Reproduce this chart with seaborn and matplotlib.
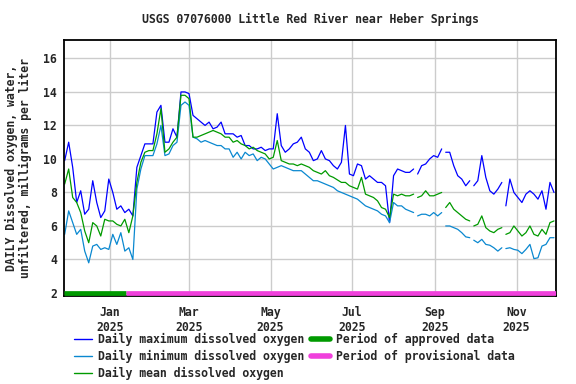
import numpy as np
import pandas as pd
import matplotlib
matplotlib.use("Agg")
import matplotlib.pyplot as plt
from matplotlib.lines import Line2D
import seaborn as sns

# ---------------- data ----------------
start_date = "2024-11-28"
step_days = 3

max_do = [9.9, 11.0, 9.5, 7.4, 8.1, 6.7, 7.0, 8.7, 7.4, 6.5, 6.9, 8.8, 8.0, 7.0, 7.2, 6.8,
          7.0, 6.6, 9.5, 10.2, 10.9, 10.9, 10.9, 12.8, 13.2, 11.0, 11.0, 11.8, 11.3, 14.0,
          14.0, 13.9, 12.6, 12.4, 12.2, 12.0, 12.2, 11.8, 11.9, 12.2, 11.5, 11.5, 11.5, 11.3,
          11.4, 10.8, 10.8, 10.6, 10.6, 10.7, 10.5, 10.6, 10.6, 12.7, 10.8, 10.4, 10.6, 10.9,
          11.0, 11.3, 10.6, 10.4, 9.9, 10.0, 10.5, 10.0, 9.9, 9.6, 9.4, 9.8, 12.0, 9.1, 9.0,
          9.7, 9.6, 8.8, 9.0, 8.8, 8.6, 8.6, 8.4, 6.2, 9.0, 9.4, 9.3, 9.2, 9.2, 9.4, 9.1, 9.6,
          9.7, 10.0, 10.2, 10.1, 10.6, 10.4, 10.4, 9.6, 9.0, 8.8, 8.4, 8.7, 8.4, 8.7, 10.2,
          8.9, 8.1, 7.9, 8.2, 8.6, 7.2, 8.8, 8.0, 7.7, 7.4, 7.9, 8.1, 7.9, 7.6, 8.1, 7.0,
          8.6, 8.0]

min_do = [5.5, 6.9, 6.2, 5.5, 5.8, 4.5, 3.8, 4.8, 4.9, 4.6, 4.7, 4.6, 5.5, 4.9, 5.6, 4.5,
          4.7, 4.0, 8.2, 9.4, 10.2, 10.2, 10.2, 10.9, 12.0, 10.2, 10.3, 10.8, 11.0, 13.2,
          13.4, 13.2, 11.3, 11.2, 11.0, 11.1, 11.0, 10.9, 10.8, 10.8, 10.6, 10.6, 10.1, 10.4,
          10.0, 10.4, 10.2, 10.3, 9.9, 10.1, 10.0, 9.7, 9.4, 9.5, 9.6, 9.5, 9.4, 9.3, 9.3,
          9.3, 9.1, 8.9, 8.7, 8.7, 8.6, 8.5, 8.4, 8.3, 8.1, 8.0, 7.9, 7.8, 7.7, 7.6, 7.4,
          7.2, 7.1, 7.0, 6.9, 6.7, 6.6, 6.2, 7.4, 7.2, 7.2, 7.0, 6.9, 6.8, 6.6, 6.7, 6.7,
          6.6, 6.8, 6.6, 6.8, 6.0, 6.0, 5.9, 5.8, 5.6, 5.35, 5.3, 5.15, 5.0, 5.2, 4.9, 4.85,
          4.7, 4.5, 4.7, 4.65, 4.7, 4.6, 4.55, 4.35, 4.6, 4.9, 4.05, 4.1, 4.8, 4.9, 5.3, 5.3]

mean_do = [8.5, 9.4, 7.7, 7.4, 6.8, 5.7, 5.0, 6.2, 6.0, 5.4, 6.4, 6.3, 6.3, 6.1, 6.0, 6.4,
           5.6, 6.6, 8.6, 9.8, 10.4, 10.5, 10.5, 11.5, 13.0, 10.4, 10.6, 11.0, 11.3, 13.8,
           13.8, 13.6, 11.3, 11.3, 11.4, 11.5, 11.6, 11.7, 11.6, 11.5, 11.3, 11.3, 11.0, 11.1,
           10.9, 10.8, 10.6, 10.7, 10.5, 10.4, 10.3, 10.0, 10.1, 11.1, 9.9, 9.8, 9.7, 9.7,
           9.6, 9.7, 9.6, 9.5, 9.3, 9.2, 9.1, 9.3, 9.0, 8.9, 8.75, 8.6, 8.6, 8.4, 8.3, 8.2,
           8.9, 7.9, 7.8, 7.7, 7.5, 7.1, 7.0, 6.5, 7.9, 7.8, 7.9, 7.8, 7.8, 7.9, 7.7, 7.8,
           8.1, 7.8, 7.8, 7.9, 8.0, 7.1, 7.4, 7.0, 6.8, 6.6, 6.4, 6.3, 6.0, 6.1, 6.6, 5.9,
           5.7, 5.6, 5.8, 5.9, 5.5, 5.6, 6.0, 5.7, 5.4, 5.6, 6.0, 5.5, 5.4, 5.8, 5.5, 6.2, 6.3]

gap_dates = ["2025-08-17", "2025-09-07", "2025-09-29", "2025-10-22"]

series_labels = ["Daily maximum dissolved oxygen",
                 "Daily minimum dissolved oxygen",
                 "Daily mean dissolved oxygen"]
period_labels = ["Period of approved data", "Period of provisional data"]
period_starts = ["2024-11-27 12:00", "2025-01-13 00:00"]
period_ends = ["2025-01-13 00:00", "2025-11-30 12:00"]

tick_dates = ["2025-01-01", "2025-03-01", "2025-05-01", "2025-07-01", "2025-09-01", "2025-11-01"]
tick_labels = ["Jan\n2025", "Mar\n2025", "May\n2025", "Jul\n2025", "Sep\n2025", "Nov\n2025"]
y_ticks = [2, 4, 6, 8, 10, 12, 14, 16]

title = "USGS 07076000 Little Red River near Heber Springs"
ylabel = "DAILY Dissolved oxygen, water,\nunfiltered, milligrams per liter"

# ---------------- styling ----------------
series_colors = ["#0000ff", "#0a88d0", "#009a00"]
period_colors = ["#009a00", "#f040dc"]

sns.set_theme(style="white")
plt.rcParams["font.family"] = ["DejaVu Sans Mono", "DejaVu Sans"]
plt.rcParams["font.weight"] = "bold"
FS = 8.3

dates = pd.date_range(start_date, periods=len(max_do), freq=f"{step_days}D")
gaps = pd.to_datetime(gap_dates)
segment = np.searchsorted(gaps.values, dates.values)
df = pd.DataFrame({"date": dates, "segment": segment,
                   series_labels[0]: max_do,
                   series_labels[1]: min_do,
                   series_labels[2]: mean_do})

fig = plt.figure(figsize=(5.76, 3.84), dpi=100)
ax = fig.add_axes([64 / 576, 1 - 296 / 384, 492 / 576, 256 / 384])

for lab, col in zip(series_labels, series_colors):
    sns.lineplot(data=df, x="date", y=lab, units="segment", estimator=None,
                 color=col, lw=0.9, ax=ax, legend=False)

for s, e, col in zip(period_starts, period_ends, period_colors):
    ax.plot([pd.Timestamp(s), pd.Timestamp(e)], [2, 2], color=col, lw=3.4,
            solid_capstyle="butt", zorder=5)

ax.set_xlim(pd.Timestamp("2024-11-27 12:00"), pd.Timestamp("2025-11-30 12:00"))
ax.set_ylim(1.82, 17.1)
ax.set_xticks(pd.to_datetime(tick_dates))
ax.set_xticklabels(tick_labels, fontsize=FS, fontweight="bold", linespacing=1.25)
ax.set_yticks(y_ticks)
ax.set_yticklabels([str(v) for v in y_ticks], fontsize=FS, fontweight="bold")
ax.tick_params(axis="both", length=0)
ax.tick_params(axis="x", pad=7)
ax.tick_params(axis="y", pad=5)
ax.grid(True, color="#cccccc", lw=1.0)
ax.set_axisbelow(True)
for sp in ax.spines.values():
    sp.set_color("black")
    sp.set_linewidth(1.3)
    sp.set_visible(True)

ax.set_xlabel("")
ax.set_ylabel(ylabel, fontsize=FS, fontweight="bold", labelpad=8, linespacing=1.15)
ax.set_title(title, fontsize=FS, fontweight="bold", pad=12)

handles = [Line2D([], [], color=c, lw=1.0) for c in series_colors] + \
          [Line2D([], [], color=c, lw=4.0) for c in period_colors]
labels = series_labels + period_labels
fig.legend(handles, labels, ncol=2, loc="upper left", bbox_to_anchor=(74 / 576, 1 - 333 / 384),
           frameon=False, handlelength=1.6, handletextpad=0.5,
           columnspacing=0.6, labelspacing=0.35, borderpad=0, borderaxespad=0,
           prop={"weight": "bold", "size": FS})

fig.savefig("out.png", dpi=100)
